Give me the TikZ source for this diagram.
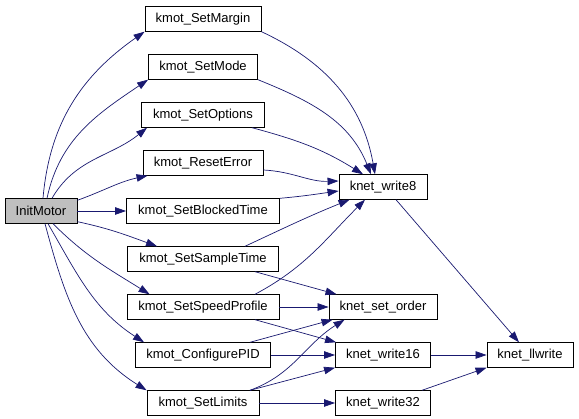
\documentclass[tikz,border=0pt]{standalone}
\usepackage{fontspec}
\setmainfont{Liberation Sans}
\usetikzlibrary{arrows.meta}
\definecolor{edgeblue}{RGB}{25,25,112}
\definecolor{rootgray}{RGB}{191,191,191}
\tikzset{
  fnbox/.style={draw=black, line width=0.9pt, fill=white, inner xsep=0pt, inner ysep=0pt,
    minimum height=24.5pt, font=\fontsize{13}{15}\selectfont},
  rootbox/.style={fnbox, fill=rootgray},
  call/.style={draw=edgeblue, line width=0.7pt, -{Triangle[length=11pt,width=7.5pt]}}
}
\begin{document}
\begin{tikzpicture}[x=1pt,y=1pt]
\useasboundingbox (0,0) rectangle (579,419);
% nodes
\node[rootbox, minimum width=72pt] (init) at (41,208) {InitMotor};
\node[fnbox, minimum width=116pt] (margin) at (203,400) {kmot\_SetMargin};
\node[fnbox, minimum width=109pt] (mode) at (203,352) {kmot\_SetMode};
\node[fnbox, minimum width=123pt] (options) at (203,304) {kmot\_SetOptions};
\node[fnbox, minimum width=120pt] (reset) at (203,256) {kmot\_ResetError};
\node[fnbox, minimum width=153pt] (blocked) at (203,208) {kmot\_SetBlockedTime};
\node[fnbox, minimum width=151pt] (sample) at (203,160) {kmot\_SetSampleTime};
\node[fnbox, minimum width=152pt] (speed) at (203,112) {kmot\_SetSpeedProfile};
\node[fnbox, minimum width=135pt] (pid) at (203,64) {kmot\_ConfigurePID};
\node[fnbox, minimum width=112pt] (limits) at (203,16) {kmot\_SetLimits};
\node[fnbox, minimum width=88pt] (w8) at (383,232) {knet\_write8};
\node[fnbox, minimum width=108pt] (order) at (383,112) {knet\_set\_order};
\node[fnbox, minimum width=95pt] (w16) at (383,64) {knet\_write16};
\node[fnbox, minimum width=95pt] (w32) at (383,16) {knet\_write32};
\node[fnbox, minimum width=86pt] (ll) at (530,64) {knet\_llwrite};
% InitMotor calls
\draw[call] ([xshift=2pt]init.north) to[out=85,in=215] (margin.south west);
\draw[call] ([xshift=6pt]init.north) to[out=78,in=214] (mode.south west);
\draw[call] ([xshift=11pt]init.north) to[out=60,in=219] ([xshift=6pt]options.south west);
\draw[call] ([yshift=-2pt]init.north east) to[out=20,in=192] ([xshift=5pt]reset.south west);
\draw[call] (init.east) -- (blocked.west);
\draw[call] ([yshift=2pt]init.south east) to[out=-12,in=160] ([xshift=30pt]sample.north west);
\draw[call] ([xshift=12pt]init.south) to[out=-45,in=148] ([xshift=23pt]speed.north west);
\draw[call] ([xshift=7pt]init.south) to[out=-60,in=147] ([xshift=9pt]pid.north west);
\draw[call] ([xshift=4pt]init.south) to[out=-75,in=148] (limits.north west);
% calls to knet_write8
\draw[call] (margin.south east) to[out=-25,in=100] ([xshift=-8pt]w8.north);
\draw[call] (mode.south east) to[out=-22,in=112] ([xshift=-12pt]w8.north);
\draw[call] ([xshift=-13pt]options.south east) to[out=-15,in=148] ([xshift=-20pt]w8.north);
\draw[call] ([yshift=-7pt]reset.east) to[out=-3,in=182] ([yshift=6pt]w8.west);
\draw[call] (blocked.north east) to[out=5,in=188] ([yshift=-4pt]w8.west);
\draw[call] ([xshift=42pt]sample.north) to[out=25,in=202] ([xshift=11pt]w8.south west);
\draw[call] ([xshift=52pt]speed.north) to[out=28,in=225] ([xshift=-18pt]w8.south);
% calls to knet_set_order / knet_write16 / knet_write32
\draw[call] ([xshift=52pt]sample.south) -- ([xshift=8pt]order.north west);
\draw[call] (speed.east) -- (order.west);
\draw[call] ([xshift=52pt]speed.south) -- ([xshift=1pt]w16.north west);
\draw[call] ([xshift=47pt]pid.north) -- ([xshift=4pt]order.south west);
\draw[call] (pid.east) -- (w16.west);
\draw[call] ([xshift=47pt]limits.north) to[out=20,in=212] ([xshift=16pt]order.south west);
\draw[call] ([xshift=47pt]limits.north) -- (w16.south west);
\draw[call] (limits.east) -- (w32.west);
% calls to knet_llwrite
\draw[call] ([xshift=13pt]w8.south) -- ([xshift=-11pt]ll.north);
\draw[call] (w16.east) -- (ll.west);
\draw[call] ([xshift=39pt]w32.north) -- (ll.south west);
\end{tikzpicture}
\end{document}
